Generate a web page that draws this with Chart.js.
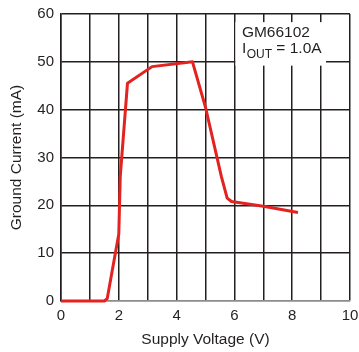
<!DOCTYPE html>
<html>
<head>
<meta charset="utf-8">
<script src="https://cdn.jsdelivr.net/npm/chart.js@4.4.0/dist/chart.umd.min.js"></script>
<style>
    html, body { margin: 0; padding: 0; background: #fff; }
    #wrap { width: 359px; height: 352px; }
</style>
</head>
<body>
<div id="wrap"><canvas id="gndcurrent" width="359" height="352"></canvas></div>
<script>
// supply voltage (V) vs ground current (mA)
var voltage = [0, 1.5, 1.6, 2.0, 2.05, 2.3, 3.15, 4.55, 5.0, 5.55, 5.75, 5.9, 7.0, 8.2];
var current = [0, 0, 0.5, 14, 26, 45.5, 49, 50, 40.5, 26, 21.5, 20.8, 19.8, 18.5];

var xTicks = [0, 2, 4, 6, 8, 10];
var yTicks = [0, 10, 20, 30, 40, 50, 60];
var partName = 'GM66102';
var loadText = ['I', 'OUT', ' = 1.0A'];

var ink = '#231f20';
var fontFamily = '"Liberation Sans", Arial, sans-serif';

var points = voltage.map(function(v, i) {
    return { x: v, y: current[i] };
});

// white label box in the upper right with part number and load current
var noteBox = {
    id: 'noteBox',
    afterDraw: function(chart) {
        var ctx = chart.ctx;
        var xs = chart.scales.x, ys = chart.scales.y;
        var left = xs.getPixelForValue(6) + 1;
        var right = xs.getPixelForValue(9.17);
        var top = ys.getPixelForValue(58.3);
        var bottom = ys.getPixelForValue(49.2);
        ctx.save();
        ctx.fillStyle = '#fff';
        ctx.fillRect(left, top, right - left, bottom - top);
        ctx.fillStyle = ink;
        ctx.textBaseline = 'alphabetic';
        ctx.textAlign = 'left';
        var tx = left + 6.5;
        ctx.font = '15.5px ' + fontFamily;
        ctx.fillText(partName, tx, top + 14.5);
        ctx.fillText(loadText[0], tx, top + 31.3);
        var w = ctx.measureText(loadText[0]).width + 0.5;
        ctx.font = '12px ' + fontFamily;
        ctx.fillText(loadText[1], tx + w, top + 36);
        w += ctx.measureText(loadText[1]).width;
        ctx.font = '15.5px ' + fontFamily;
        ctx.fillText(loadText[2], tx + w, top + 31.3);
        ctx.restore();
    }
};

var ctx = document.getElementById('gndcurrent').getContext('2d');
window.gndChart = new Chart(ctx, {
    type: 'line',
    data: {
        datasets: [{
            data: points,
            borderColor: '#e2231f',
            borderWidth: 3,
            pointRadius: 0,
            tension: 0,
            fill: false,
            borderJoinStyle: 'round',
            clip: false
        }]
    },
    options: {
        responsive: false,
        animation: false,
        layout: { padding: { left: 0, top: 14, right: 9, bottom: 0 } },
        plugins: {
            legend: { display: false },
            tooltip: { enabled: false }
        },
        scales: {
            x: {
                type: 'linear',
                min: 0,
                max: 10,
                afterFit: function(scale) {
                    scale.height = 51;
                    // let the "10" label hang past the plot edge
                    scale.paddingLeft = 0;
                    scale.paddingRight = 0;
                },
                afterBuildTicks: function(scale) {
                    scale.ticks = [];
                    for (var v = 0; v <= 10; v++) scale.ticks.push({ value: v });
                },
                ticks: {
                    autoSkip: false,
                    maxRotation: 0,
                    padding: 6,
                    color: ink,
                    font: { family: fontFamily, size: 15 },
                    callback: function(value) {
                        return xTicks.indexOf(value) >= 0 ? String(value) : '';
                    }
                },
                grid: {
                    color: ink,
                    lineWidth: 1.5,
                    drawTicks: false
                },
                border: { color: '#8c8c8c', width: 1.5 },
                title: {
                    display: true,
                    text: 'Supply Voltage (V)',
                    color: ink,
                    font: { family: fontFamily, size: 15.5 },
                    padding: { top: 0, bottom: 3 }
                }
            },
            y: {
                min: 0,
                max: 60,
                afterFit: function(scale) {
                    scale.width = 61;
                    scale.paddingTop = 0;
                    scale.paddingBottom = 0;
                },
                afterBuildTicks: function(scale) {
                    scale.ticks = yTicks.map(function(v) { return { value: v }; });
                },
                ticks: {
                    padding: 7,
                    color: ink,
                    font: { family: fontFamily, size: 15 }
                },
                grid: {
                    color: function(c) {
                        return c.tick && c.tick.value === 0 ? '#8c8c8c' : ink;
                    },
                    lineWidth: 1.5,
                    drawTicks: false
                },
                border: { color: ink, width: 1.5 },
                title: {
                    display: true,
                    text: 'Ground Current (mA)',
                    color: ink,
                    font: { family: fontFamily, size: 15.5 },
                    padding: { top: 7, bottom: 0 }
                }
            }
        }
    },
    plugins: [noteBox]
});
</script>
</body>
</html>
